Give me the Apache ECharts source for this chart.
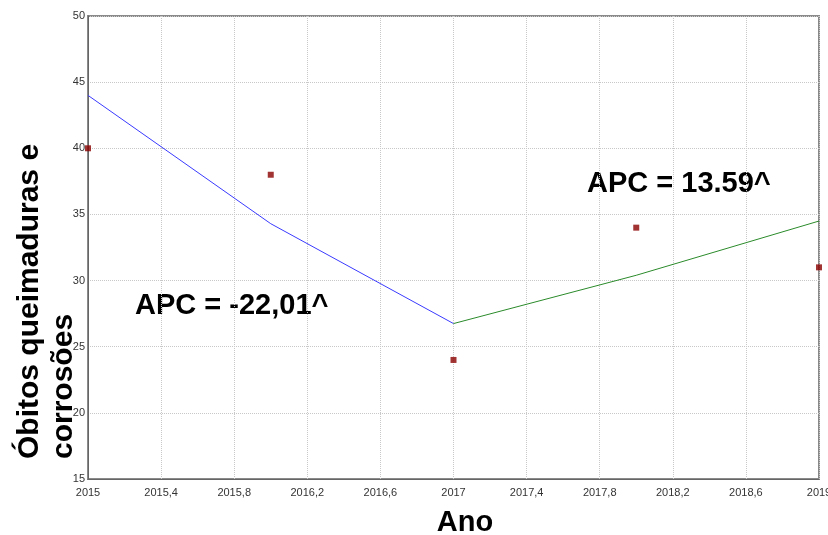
<!DOCTYPE html>
<html><head><meta charset="utf-8">
<script src="https://cdn.jsdelivr.net/npm/echarts@6/dist/echarts.min.js"></script>
<style>html,body{margin:0;padding:0;background:#fff}#c{width:828px;height:535px}</style>
</head><body><div id="c"></div>
<script>
const baseYear = 2015;
const obsYears = [2015, 2016, 2017, 2018, 2019];
const obsValues = [40, 38, 24, 34, 31];
const seg1Years = [2015, 2016, 2017];
const seg1Values = [44.0, 34.3, 26.75];
const seg2Years = [2017, 2018, 2019];
const seg2Values = [26.75, 30.4, 34.5];
const yTicks = [15, 20, 25, 30, 35, 40, 45, 50];
const apc1Label = 'APC = -22,01^';
const apc2Label = 'APC = 13.59^';
const yTitle = 'Óbitos queimaduras e\ncorrosões';
const xTitle = 'Ano';

const pairs = (xs, ys) => xs.map((x, i) => [x - baseYear, ys[i]]);
const chart = echarts.init(document.getElementById('c'));
const fam = 'Liberation Sans, Arial, sans-serif';
chart.setOption({
  animation: false,
  grid: {left: 88, right: 9, top: 16, bottom: 56, show: true, borderColor: '#8a8a8a', borderWidth: 2, outerBoundsMode: 'none', containLabel: false},
  xAxis: {
    type: 'value', min: 0, max: 4, interval: 0.4,
    axisLine: {show: true, lineStyle: {color: '#666', width: 1}},
    axisTick: {show: false},
    axisLabel: {color: '#333', fontSize: 11, fontFamily: fam, margin: 8,
      formatter: v => { const s = (Math.round((baseYear + v) * 10) / 10).toString(); return s.replace('.', ','); }},
    splitLine: {show: true, lineStyle: {color: '#c8c8c8', type: [1, 1], width: 1}}
  },
  yAxis: {
    type: 'value', min: yTicks[0], max: yTicks[yTicks.length - 1], interval: 5,
    axisLine: {show: true, lineStyle: {color: '#666', width: 1}},
    axisTick: {show: false},
    axisLabel: {color: '#333', fontSize: 11, fontFamily: fam, margin: 3},
    splitLine: {show: true, lineStyle: {color: '#c8c8c8', type: [1, 1], width: 1}}
  },
  series: [
    {type: 'line', data: pairs(seg1Years, seg1Values), symbol: 'none', lineStyle: {color: '#3a3aff', width: 1}, z: 3},
    {type: 'line', data: pairs(seg2Years, seg2Values), symbol: 'none', lineStyle: {color: '#2a8a2a', width: 1}, z: 3},
    {type: 'scatter', data: pairs(obsYears, obsValues), symbol: 'rect', symbolSize: 6, itemStyle: {color: '#8b0000'}, z: 4}
  ],
  graphic: [
    {type: 'text', x: 135, y: 306, style: {text: apc1Label, font: 'bold 29px ' + fam, fill: '#000', textAlign: 'left', textVerticalAlign: 'middle'}},
    {type: 'text', x: 587, y: 184, style: {text: apc2Label, font: 'bold 29px ' + fam, fill: '#000', textAlign: 'left', textVerticalAlign: 'middle'}},
    {type: 'text', x: 465, y: 523, style: {text: xTitle, font: 'bold 29px ' + fam, fill: '#000', textAlign: 'center', textVerticalAlign: 'middle'}},
    {type: 'text', x: 13, y: 459, rotation: Math.PI / 2, style: {text: yTitle, font: 'bold 30px ' + fam, lineHeight: 34, fill: '#000', textAlign: 'left', textVerticalAlign: 'top'}}
  ]
});
</script></body></html>
